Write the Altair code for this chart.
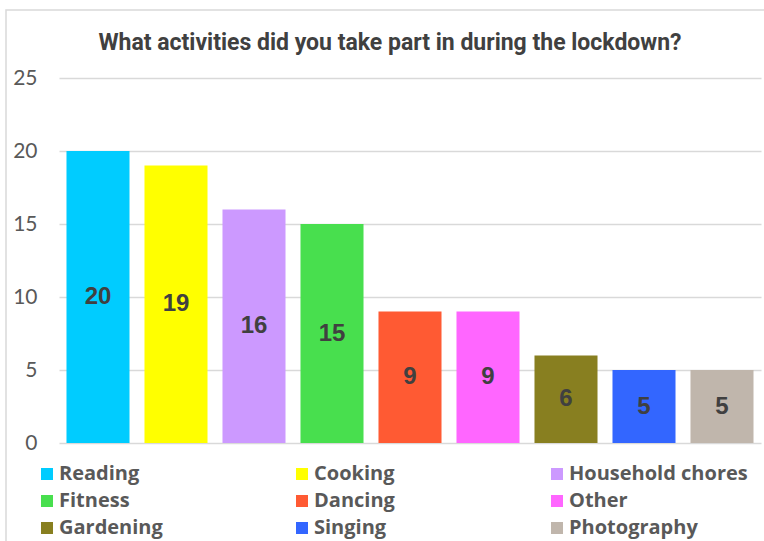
import altair as alt
import pandas as pd

categories = ["Reading", "Cooking", "Household chores", "Fitness", "Dancing",
              "Other", "Gardening", "Singing", "Photography"]
values = [20, 19, 16, 15, 9, 9, 6, 5, 5]
colors = ["#00CCFF", "#FFFF00", "#CC99FF", "#48DF4E", "#FF5A33",
          "#FF66FF", "#887F20", "#3366FF", "#C0B6AC"]
y_ticks = [0, 5, 10, 15, 20, 25]
title_text = "What activities did you take part in during the lockdown?"

df = pd.DataFrame({"Activity": categories, "Count": values})

base = alt.Chart(df)

bars = base.mark_bar().encode(
    x=alt.X("Activity:N", sort=categories, axis=None,
            scale=alt.Scale(paddingInner=0.192, paddingOuter=0.096)),
    y=alt.Y("Count:Q", scale=alt.Scale(domain=[0, 25], nice=False),
            axis=alt.Axis(values=y_ticks, title=None, domain=False, ticks=False,
                          grid=True, gridColor="#D9D9D9", gridWidth=1.5,
                          labelFont="Lato", labelFontSize=21, labelColor="#595959",
                          labelPadding=22)),
    color=alt.Color("Activity:N", sort=categories,
                    scale=alt.Scale(domain=categories, range=colors),
                    legend=alt.Legend(title=None, orient="none", legendX=-22, legendY=386,
                                      direction="horizontal", columns=3, gridAlign="all",
                                      symbolType="square", symbolSize=144,
                                      symbolStrokeWidth=0, symbolOpacity=1,
                                      labelFont="Open Sans", labelFontWeight="bold",
                                      labelFontSize=20, labelColor="#595959",
                                      labelOffset=2, labelLimit=400,
                                      columnPadding=54, rowPadding=7)),
)

labels = base.transform_calculate(mid="datum.Count / 2").mark_text(
    font="Liberation Sans", fontWeight="bold", fontSize=24, color="#404040",
    baseline="middle", align="center"
).encode(
    x=alt.X("Activity:N", sort=categories),
    y=alt.Y("mid:Q"),
    text=alt.Text("Count:Q"),
)

border = alt.Chart(pd.DataFrame({"a": [0]})).mark_rect(
    fill="white", fillOpacity=0, stroke="#D9D9D9", strokeWidth=1.5
).encode(
    x=alt.value(-53), x2=alt.value(720), y=alt.value(-68), y2=alt.value(480)
)

chart = alt.layer(border, bars, labels).properties(
    width=702, height=365,
    autosize=alt.AutoSizeParams(type="none"),
    padding={"left": 59, "top": 78, "right": 3, "bottom": 98},
    title=alt.TitleParams(title_text, font="Roboto", fontWeight="bold",
                          fontSize=23, color="#404040", anchor="middle", dx=-20,
                          offset=-46),
).configure_view(stroke=None)

chart.save("out.html", embed_options={"renderer": "svg", "actions": False})
